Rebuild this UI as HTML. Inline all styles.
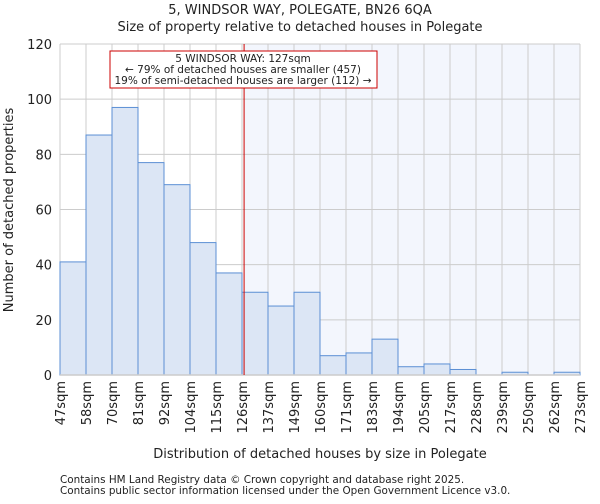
<!DOCTYPE html>
<html><head><meta charset="utf-8"><style>
body{margin:0;background:#fff;font-family:"DejaVu Sans","Liberation Sans",sans-serif;}
svg text{font-family:"DejaVu Sans","Liberation Sans",sans-serif;fill:#222;}
</style></head><body>
<svg id="chart" width="600" height="500" xmlns="http://www.w3.org/2000/svg">
<text x="300" y="14" text-anchor="middle" font-size="13">5, WINDSOR WAY, POLEGATE, BN26 6QA</text>
<text x="300" y="31" text-anchor="middle" font-size="13">Size of property relative to detached houses in Polegate</text>
<g id="plot"></g>
<text x="320" y="458" text-anchor="middle" font-size="13">Distribution of detached houses by size in Polegate</text>
<text transform="translate(13,210) rotate(-90)" text-anchor="middle" font-size="13">Number of detached properties</text>
<text x="60" y="483" font-size="10.4" fill="#444">Contains HM Land Registry data © Crown copyright and database right 2025.</text>
<text x="60" y="494" font-size="10.4" fill="#444">Contains public sector information licensed under the Open Government Licence v3.0.</text>
</svg>
<script>
const categories=["47sqm","58sqm","70sqm","81sqm","92sqm","104sqm","115sqm","126sqm","137sqm","149sqm","160sqm","171sqm","183sqm","194sqm","205sqm","217sqm","228sqm","239sqm","250sqm","262sqm","273sqm"];
const counts=[41,87,97,77,69,48,37,30,25,30,7,8,13,3,4,2,0,1,0,1];
const yTicks=[0,20,40,60,80,100,120];
const markerBin=7.08;
const NS="http://www.w3.org/2000/svg";
const L=60,R=580,T=44,B=375,yMax=120;
const bw=(R-L)/counts.length;
const x=i=>L+i*bw;
const y=v=>B-(v/yMax)*(B-T);
const g=document.getElementById('plot');
function mk(t,a){const e=document.createElementNS(NS,t);for(const k in a)e.setAttribute(k,a[k]);g.appendChild(e);return e;}
let e;
e=mk('rect',{x:L,y:T,width:R-L,height:B-T,fill:'#fff'});


const mx=x(markerBin);
e=mk('rect',{x:mx,y:T,width:R-mx,height:B-T,fill:'#f3f6fd'});


for(let i=0;i<categories.length;i++){
 e=mk('line',{x1:x(i),x2:x(i),y1:T,y2:B,stroke:'#ccc','stroke-width':1});
 
 
 e=mk('text',{transform:`translate(${x(i)+5},${B+6}) rotate(-90)`,'text-anchor':'end','font-size':13});
 e.textContent=categories[i];
 
 
}
yTicks.forEach(v=>{
 e=mk('line',{x1:L,x2:R,y1:y(v),y2:y(v),stroke:'#ccc','stroke-width':1});
 
 
 e=mk('text',{x:L-8,y:y(v)+5,'text-anchor':'end','font-size':13});
 e.textContent=v;
 
 
});
counts.forEach((c,i)=>{
 e=mk('rect',{x:x(i),y:y(c),width:bw,height:B-y(c),fill:'#dce6f5',stroke:'#5b8fd4','stroke-width':1});
 
 
});
e=mk('line',{x1:L,x2:R,y1:B,y2:B,stroke:'#ccc','stroke-width':1.5});


e=mk('line',{x1:mx,x2:mx,y1:T,y2:B,stroke:'#cc0000','stroke-width':1});


e=mk('rect',{x:110,y:51,width:267,height:37,fill:'#fff',stroke:'#cc0000','stroke-width':1});


["5 WINDSOR WAY: 127sqm","← 79% of detached houses are smaller (457)","19% of semi-detached houses are larger (112) →"].forEach((s,k)=>{
 e=mk('text',{x:243,y:62+k*11,'text-anchor':'middle','font-size':10.5});
 e.textContent=s;
 
 
});
</script>
</body></html>
